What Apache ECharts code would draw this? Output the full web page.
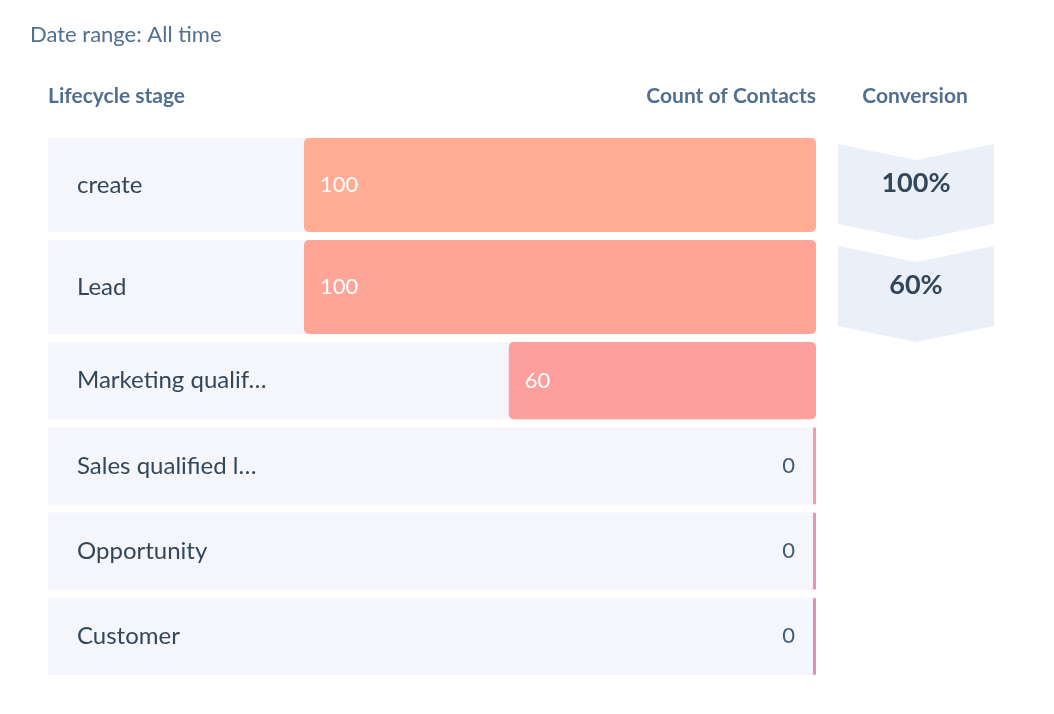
<!DOCTYPE html>
<html>
<head>
<meta charset="utf-8">
<script src="https://cdn.jsdelivr.net/npm/echarts@6/dist/echarts.min.js"></script>
<style>
  html, body { margin: 0; padding: 0; background: #fff; }
  #chart { width: 1054px; height: 714px; }
</style>
</head>
<body>
<div id="chart"></div>
<script>
var stages = ['create', 'Lead', 'Marketing qualif\u2026', 'Sales qualified l\u2026', 'Opportunity', 'Customer'];
var counts = [100, 100, 60, 0, 0, 0];
var conversionStages = ['create', 'Lead'];
var conversions = [100, 60];

var barColors = ['#ffac92', '#fea598', '#fe9f9d', '#f59ba7', '#ea95ad', '#e190b3'];
var font = 'Lato, "Noto Sans", sans-serif';

var chart = echarts.init(document.getElementById('chart'));

// rows are drawn right-aligned: 0 sits at the right edge of the grid
function stageRenderer(offset) {
    return function (params, api) {
        var i = params.dataIndex + offset;
        var v = api.value(0);
        var cat = api.value(1);
        var base = api.coord([0, cat]);
        var end = api.coord([v, cat]);
        var h = api.size([0, 1])[1] - 8;
        var y = base[1] - h / 2;
        var sys = params.coordSys;
        var w = Math.max(base[0] - end[0], 3);
        var left = base[0] - w;
        return {
            type: 'group',
            children: [{
                type: 'rect',
                shape: { x: sys.x, y: y, width: sys.width, height: h },
                style: { fill: '#f5f6fb' }
            }, {
                type: 'rect',
                shape: { x: left, y: y, width: w, height: h, r: v > 0 ? 5 : 1.5 },
                style: { fill: barColors[i] }
            }, {
                type: 'text',
                x: v > 0 ? left + 16 : left - 18,
                y: base[1],
                style: {
                    text: String(v),
                    fill: v > 0 ? '#ffffff' : '#425b76',
                    align: v > 0 ? 'left' : 'right',
                    verticalAlign: 'middle',
                    fontSize: 22,
                    fontFamily: font
                }
            }]
        };
    };
}

function chevron(params, api) {
    var c = api.coord([0.5, api.value(1)]);
    var sys = params.coordSys;
    var x0 = sys.x, x1 = sys.x + sys.width, xm = c[0];
    return {
        type: 'group',
        children: [{
            type: 'polygon',
            shape: {
                points: [[x0, c[1] - 41], [xm, c[1] - 25], [x1, c[1] - 41],
                         [x1, c[1] + 39], [xm, c[1] + 55], [x0, c[1] + 39]]
            },
            style: { fill: '#eaeff8' }
        }, {
            type: 'text',
            x: xm,
            y: c[1] - 2,
            style: {
                text: api.value(0) + '%',
                fill: '#33475b',
                align: 'center',
                verticalAlign: 'middle',
                fontSize: 27,
                fontWeight: 'bold',
                fontFamily: font
            }
        }]
    };
}

function stageAxis(names, gridIndex) {
    return {
        type: 'category',
        gridIndex: gridIndex,
        data: names,
        inverse: true,
        z: 10,
        axisLine: { show: false },
        axisTick: { show: false },
        axisLabel: {
            inside: true,
            margin: 29,
            fontSize: 24,
            color: '#33475b',
            fontFamily: font
        }
    };
}

function countAxis(gridIndex) {
    return {
        type: 'value',
        gridIndex: gridIndex,
        inverse: true,
        min: 0,
        max: 150,
        show: false,
        splitLine: { show: false }
    };
}

var headStyle = { fontSize: 21, fontWeight: 'bold', color: '#516f90', fontFamily: font };

var option = {
    animation: false,
    title: [{
        text: 'Date range: All time',
        left: 30, top: 24, padding: 0,
        textStyle: { fontSize: 22, fontWeight: 'normal', color: '#516f90', fontFamily: font }
    }, {
        text: 'Lifecycle stage',
        left: 48, top: 86, padding: 0,
        textStyle: headStyle
    }, {
        text: 'Count of Contacts',
        right: 238, top: 86, padding: 0,
        textStyle: headStyle
    }, {
        text: 'Conversion',
        left: 915, top: 86, padding: 0, textAlign: 'center',
        textStyle: headStyle
    }],
    grid: [
        { left: 48, right: 238, top: 134, height: 204 },
        { left: 48, right: 238, top: 338, height: 341 },
        { left: 838, right: 60, top: 134, height: 204 }
    ],
    xAxis: [
        countAxis(0),
        countAxis(1),
        { type: 'value', gridIndex: 2, min: 0, max: 1, show: false }
    ],
    yAxis: [
        stageAxis(stages.slice(0, 2), 0),
        stageAxis(stages.slice(2), 1),
        { type: 'category', gridIndex: 2, data: conversionStages, inverse: true, show: false }
    ],
    series: [{
        type: 'custom',
        xAxisIndex: 0, yAxisIndex: 0,
        renderItem: stageRenderer(0),
        data: counts.slice(0, 2).map(function (v, i) { return [v, i]; })
    }, {
        type: 'custom',
        xAxisIndex: 1, yAxisIndex: 1,
        renderItem: stageRenderer(2),
        data: counts.slice(2).map(function (v, i) { return [v, i]; })
    }, {
        type: 'custom',
        xAxisIndex: 2, yAxisIndex: 2,
        renderItem: chevron,
        data: conversions.map(function (v, i) { return [v, i]; })
    }]
};

chart.setOption(option);
</script>
</body>
</html>
